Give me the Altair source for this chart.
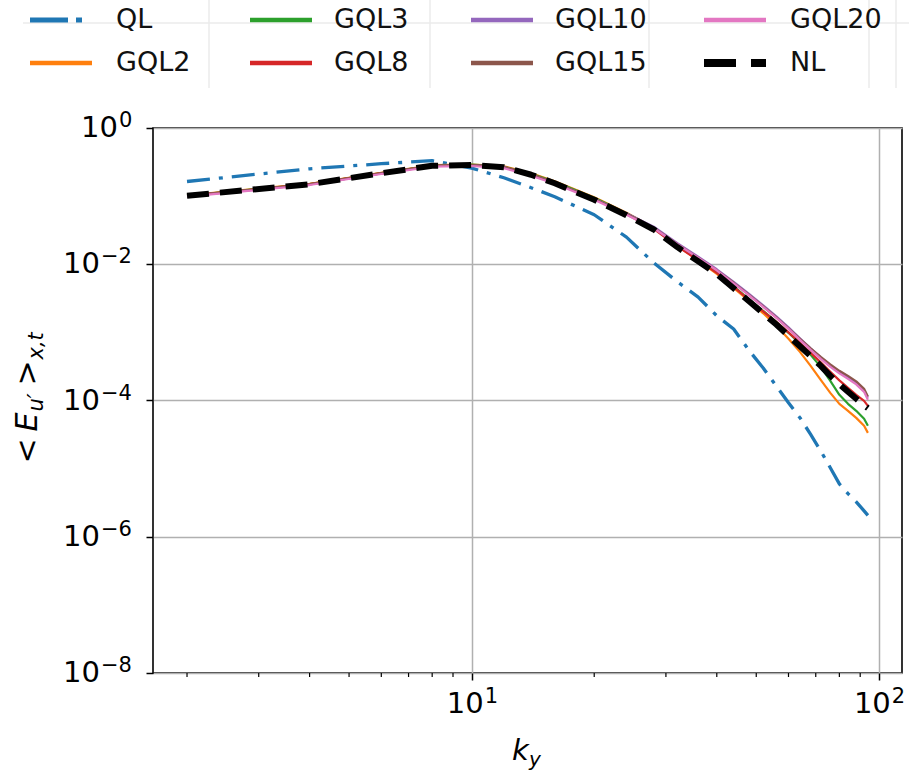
import altair as alt
import pandas as pd

# ---------------- data ----------------
KY = [2, 4, 6, 8, 10, 12, 14, 16, 20, 24, 28, 32, 36, 40, 44, 48, 52, 56, 60, 64,
      68, 72, 76, 80, 84, 88, 92, 94]

QL = [0.164, 0.252, 0.299, 0.331, 0.258, 0.186, 0.133, 0.098, 0.0533, 0.025, 0.0105,
      0.00555, 0.00329, 0.00175, 0.00112, 5.43e-4, 3.0e-4, 1.63e-4, 9.27e-5, 5.6e-5,
      3.18e-5, 1.82e-5, 1.03e-5, 5.97e-6, 4.3e-6, 3.25e-6, 2.4e-6, 2.06e-6]
GQL2 = [0.1031, 0.152, 0.2206, 0.2842, 0.291, 0.2748, 0.2168, 0.1655, 0.0963, 0.0570,
        0.03434, 0.01868, 0.01144, 0.00724, 0.004513, 0.002908, 0.001905, 0.001248,
        8.04e-4, 5.18e-4, 3.23e-4, 2.01e-4, 1.296e-4, 8.93e-5, 7.05e-5, 5.56e-5,
        4.25e-5, 3.35e-5]
GQL3 = [0.1020, 0.1505, 0.2184, 0.2813, 0.2891, 0.2702, 0.2133, 0.1627, 0.0947, 0.0561,
        0.03434, 0.0190, 0.01183, 0.00762, 0.00475, 0.003059, 0.002073, 0.001429,
        9.85e-4, 6.79e-4, 4.68e-4, 3.12e-4, 1.944e-4, 1.21e-4, 8.93e-5, 7.05e-5,
        5.38e-5, 4.25e-5]
GQL8 = [0.1014, 0.1496, 0.217, 0.279, 0.286, 0.266, 0.2097, 0.1573, 0.0915, 0.0542,
        0.0332, 0.01837, 0.01144, 0.00750, 0.004669, 0.003009, 0.002039, 0.001429,
        1.002e-3, 7.03e-4, 5.01e-4, 3.63e-4, 2.64e-4, 1.977e-4, 1.535e-4, 1.21e-4,
        9.88e-5, 8.34e-5]
GQL10 = [0.1003, 0.148, 0.2147, 0.2766, 0.2832, 0.266, 0.206, 0.1573, 0.0915, 0.0561,
         0.0355, 0.02032, 0.01288, 0.00844, 0.00553, 0.003683, 0.002496, 0.001722,
         0.001187, 8.18e-4, 5.83e-4, 4.30e-4, 3.28e-4, 2.64e-4, 2.226e-4, 1.848e-4,
         1.41e-4, 1.094e-4]
GQL15 = [0.1008, 0.1490, 0.2160, 0.2780, 0.2850, 0.265, 0.205, 0.156, 0.0905, 0.0550,
         0.03434, 0.01965, 0.01245, 0.00816, 0.00535, 0.003562, 0.002413, 0.001664,
         0.001147, 8.04e-4, 5.83e-4, 4.375e-4, 3.40e-4, 2.73e-4, 2.30e-4, 1.911e-4,
         1.483e-4, 1.143e-4]
GQL20 = [0.0986, 0.1455, 0.2111, 0.2702, 0.2766, 0.2568, 0.1992, 0.152, 0.0885, 0.0533,
         0.03376, 0.01965, 0.01245, 0.00816, 0.00526, 0.0035, 0.002373, 0.001637,
         0.001128, 7.77e-4, 5.54e-4, 4.09e-4, 3.12e-4, 2.50e-4, 2.08e-4, 1.727e-4,
         1.34e-4, 1.023e-4]
NL = [0.1014, 0.1496, 0.217, 0.279, 0.286, 0.266, 0.206, 0.1546, 0.0885, 0.0524,
      0.0324, 0.01788, 0.01106, 0.00718, 0.004438, 0.002859, 0.001905, 0.001305,
      8.91e-4, 6.24e-4, 4.48e-4, 3.23e-4, 2.30e-4, 1.73e-4, 1.34e-4, 1.06e-4,
      8.49e-5, 7.72e-5]

SERIES_NAMES = ["QL", "GQL2", "GQL3", "GQL8", "GQL10", "GQL15", "GQL20", "NL"]
SERIES_VALUES = [QL, GQL2, GQL3, GQL8, GQL10, GQL15, GQL20, NL]
COLORS = ["#1f77b4", "#ff7f0e", "#2ca02c", "#d62728", "#9467bd", "#8c564b",
          "#e377c2", "#000000"]

Y_TICKS = [1, 1e-2, 1e-4, 1e-6, 1e-8]
Y_EXPS = ["0", "\u22122", "\u22124", "\u22126", "\u22128"]
X_TICKS = [10, 100]
X_EXPS = ["1", "2"]
X_MINOR = [2, 3, 4, 5, 6, 7, 8, 9, 20, 30, 40, 50, 60, 70, 80, 90]

# legend order: column-major as in the reference (4 columns x 2 rows)
LEGEND_ORDER = ["QL", "GQL2", "GQL3", "GQL8", "GQL10", "GQL15", "GQL20", "NL"]

# ---------------- layout ----------------
W, H = 749, 545
OX, OY = 153, 128          # plot origin on the page
FONT = "DejaVu Sans"

rows = []
for name, vals in zip(SERIES_NAMES, SERIES_VALUES):
    for k, v in zip(KY, vals):
        rows.append({"series": name, "ky": k, "E": v})
df = pd.DataFrame(rows)
one = pd.DataFrame({"a": [0]})

xscale = alt.Scale(type="log", domain=[1.650, 114.0], nice=False)
yscale = alt.Scale(type="log", domain=[1e-8, 1], nice=False)

axis_x = alt.Axis(values=X_TICKS, labels=False, title=None, grid=True,
                  gridColor="#b0b0b0", gridWidth=1.5, tickSize=7,
                  tickColor="black", tickWidth=1.5, domain=False)
axis_y = alt.Axis(values=Y_TICKS, labels=False, title=None, grid=True,
                  gridColor="#b0b0b0", gridWidth=1.5, tickSize=7,
                  tickColor="black", tickWidth=1.5, domain=False)


def X(field):
    return alt.X(field, scale=xscale, axis=axis_x)


def Y(field):
    return alt.Y(field, scale=yscale, axis=axis_y)


layers = []

# faint background lines behind the legend (from the cropped source figure)
for gx in [209, 430, 649, 869, 896]:
    layers.append(alt.Chart(one).mark_rule(color="#ebebeb", strokeWidth=1.5).encode(
        x=alt.value(gx - OX), y=alt.value(0 - OY), y2=alt.value(88 - OY)))
layers.append(alt.Chart(one).mark_rule(color="#ebebeb", strokeWidth=1.5).encode(
    x=alt.value(23 - OX), x2=alt.value(909 - OX), y=alt.value(23 - OY)))

# minor x ticks
layers.append(alt.Chart(pd.DataFrame({"v": X_MINOR})).mark_rule(
    color="black", strokeWidth=1.2).encode(
    x=X("v:Q"), y=alt.value(H), y2=alt.value(H + 4)))

# data lines
for name, color in zip(SERIES_NAMES, COLORS):
    kw = dict(color=color, strokeWidth=2.2, strokeJoin="round")
    if name == "QL":
        kw.update(strokeWidth=3.3, strokeDash=[23, 9, 4, 9])
    elif name == "NL":
        kw.update(strokeWidth=6, strokeDash=[22, 11])
    layers.append(alt.Chart(df).transform_filter(alt.datum.series == name).mark_line(**kw).encode(
        x=X("ky:Q"), y=Y("E:Q"), order="ky:Q"))

# y tick labels (10 + superscript)
yt = pd.DataFrame({"v": Y_TICKS, "exp": Y_EXPS})
for is_zero, junction in [(True, 118), (False, 100)]:
    cond = (alt.datum.exp == "0") if is_zero else (alt.datum.exp != "0")
    layers.append(alt.Chart(yt).transform_filter(cond).mark_text(
        align="right", baseline="middle", font=FONT, fontSize=29, color="black").encode(
        y=Y("v:Q"), x=alt.value(junction - OX), text=alt.value("10")))
    layers.append(alt.Chart(yt).transform_filter(cond).mark_text(
        align="left", baseline="middle", font=FONT, fontSize=21, dy=-7, color="black").encode(
        y=Y("v:Q"), x=alt.value(junction - OX + 1), text="exp:N"))

# x tick labels
xt = pd.DataFrame({"v": X_TICKS, "exp": X_EXPS})
layers.append(alt.Chart(xt).mark_text(
    align="right", baseline="middle", font=FONT, fontSize=29, dx=12, color="black").encode(
    x=X("v:Q"), y=alt.value(H + 31), text=alt.value("10")))
layers.append(alt.Chart(xt).mark_text(
    align="left", baseline="middle", font=FONT, fontSize=21, dx=13, color="black").encode(
    x=X("v:Q"), y=alt.value(H + 24), text="exp:N"))

# x axis title: k_y
layers.append(alt.Chart(one).mark_text(
    align="left", baseline="alphabetic", font=FONT, fontSize=29, fontStyle="italic").encode(
    x=alt.value(512 - OX), y=alt.value(760 - OY), text=alt.value("k")))
layers.append(alt.Chart(one).mark_text(
    align="left", baseline="alphabetic", font=FONT, fontSize=20, fontStyle="italic").encode(
    x=alt.value(529 - OX), y=alt.value(766 - OY), text=alt.value("y")))

# y axis title: < E_{u'} >_{x,t}  (rotated pieces)
y0 = 463.5
pieces = [("<", 0, False, False), ("E", 32, False, True), ("u\u2032", 52, True, True),
          (">", 78, False, False), ("x,t", 104, True, True)]
for txt, s, sub, ital in pieces:
    mk = dict(align="left", baseline="alphabetic", font=FONT, angle=270,
              fontSize=21 if sub else 30, color="black")
    if ital:
        mk["fontStyle"] = "italic"
    layers.append(alt.Chart(one).mark_text(**mk).encode(
        x=alt.value((43 if sub else 37) - OX), y=alt.value(y0 - s - OY),
        text=alt.value(txt)))

# legend (manual, 4 columns x 2 rows, column-major)
col_sym = [30, 250, 471, 704]
col_lab = [116, 334, 555, 790]
row_y = [20, 63]
for i, name in enumerate(LEGEND_ORDER):
    c, r = i // 2, i % 2
    color = COLORS[SERIES_NAMES.index(name)]
    kw = dict(color=color, strokeWidth=4.5)
    x1 = col_sym[c] + 62
    if name == "QL":
        kw.update(strokeWidth=5, strokeDash=[38, 8, 6, 100])
    elif name == "NL":
        kw.update(strokeWidth=8, strokeDash=[32, 15])
    layers.append(alt.Chart(one).mark_rule(**kw).encode(
        x=alt.value(col_sym[c] - OX), x2=alt.value(x1 - OX), y=alt.value(row_y[r] - OY)))
    layers.append(alt.Chart(one).mark_text(
        align="left", baseline="middle", font=FONT, fontSize=27, color="#111111").encode(
        x=alt.value(col_lab[c] - OX), y=alt.value(row_y[r] - OY), text=alt.value(name)))

chart = alt.layer(*layers).properties(
    width=W, height=H,
    background="white",
    padding={"left": OX, "top": OY, "right": 909 - OX - W, "bottom": 773 - OY - H},
    autosize=alt.AutoSizeParams(type="none"),
).configure_view(stroke="black", strokeWidth=1.6)

chart.save("out.html", embed_options={"renderer": "svg", "actions": False})
